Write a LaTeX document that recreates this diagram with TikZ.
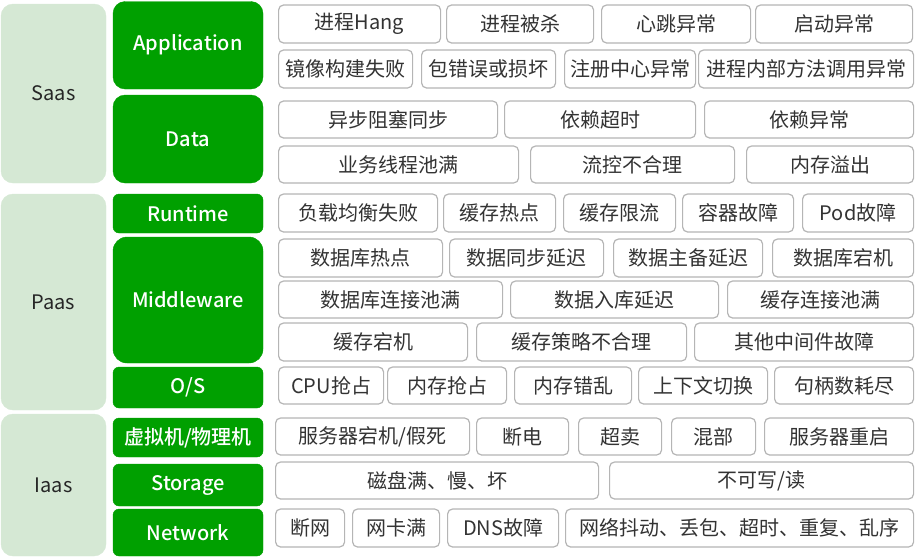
\documentclass[tikz,border=0pt]{standalone}
\usepackage{fontspec}
\setmainfont{Noto Sans CJK SC}
\newfontfamily\catfont{Noto Sans CJK SC}[UprightFont=* Medium]
\definecolor{laygreen}{HTML}{D5E8D4}
\definecolor{catgreen}{HTML}{00A000}
\definecolor{itmgray}{HTML}{B5B5B5}

\begin{document}
\begin{tikzpicture}[x=1pt,y=-1pt,
  lay/.style={fill=laygreen,draw=laygreen,rounded corners=12pt,minimum width=105pt,
    text=black!85,font=\fontsize{20}{24}\selectfont},
  cat/.style={fill=catgreen,draw=catgreen,rounded corners=6pt,minimum width=150pt,
    text=white,font=\fontsize{20}{24}\catfont},
  itm/.style={draw=itmgray,line width=1.2pt,fill=white,rounded corners=5pt,anchor=west,
    inner sep=0pt,text=black!80,font=\fontsize{20}{24}\selectfont}]
\useasboundingbox (0,0) rectangle (915,557);

% layers
\node[lay,minimum height=179pt] (saas) at (53.5,93.5) {Saas};
\node[lay,minimum height=216pt] (paas) at (53.5,302) {Paas};
\node[lay,minimum height=142pt] (iaas) at (53.5,485) {Iaas};

% categories
\node[cat,rounded corners=12pt,minimum height=87.5pt] (app) at (188,45.25) {Application};
\node[cat,rounded corners=12pt,minimum height=88pt] (data) at (188,139) {Data};
\node[cat,minimum height=39pt] (rt) at (188,213.5) {Runtime};
\node[cat,rounded corners=14pt,minimum height=126pt] (mw) at (188,300) {Middleware};
\node[cat,minimum height=41pt] (os) at (188,387.5) {O/S};
\node[cat,minimum height=39pt] (vm) at (188,437.5) {虚拟机/物理机};
\node[cat,minimum height=42pt] (st) at (188,485) {Storage};
\node[cat,minimum height=47pt] (net) at (188,532.5) {Network};

% items, one row per loop: left/right/text
\foreach \a/\b/\t [count=\i] in {278/440/进程Hang,446/593/进程被杀,601/750/心跳异常,755/912/启动异常}
  \node[itm,minimum width=\b-\a,minimum height=38pt] (app1-\i) at (\a,24) {\t};
\foreach \a/\b/\t [count=\i] in {278/412/镜像构建失败,421/555/包错误或损坏,564/695/注册中心异常,698/913/进程内部方法调用异常}
  \node[itm,minimum width=\b-\a,minimum height=38pt] (app2-\i) at (\a,69) {\t};
\foreach \a/\b/\t [count=\i] in {278/497/异步阻塞同步,504/695/依赖超时,704/913/依赖异常}
  \node[itm,minimum width=\b-\a,minimum height=37pt] (data1-\i) at (\a,119.5) {\t};
\foreach \a/\b/\t [count=\i] in {278/518/业务线程池满,530/734/流控不合理,746/913/内存溢出}
  \node[itm,minimum width=\b-\a,minimum height=37pt] (data2-\i) at (\a,164.5) {\t};
\foreach \a/\b/\t [count=\i] in {278/437/负载均衡失败,443/555/缓存热点,563/675/缓存限流,682/793/容器故障,802/913/Pod故障}
  \node[itm,minimum width=\b-\a,minimum height=38pt] (rt-\i) at (\a,213) {\t};
\foreach \a/\b/\t [count=\i] in {278/442/数据库热点,449/603/数据同步延迟,613/762/数据主备延迟,772/913/数据库宕机}
  \node[itm,minimum width=\b-\a,minimum height=38pt] (mw1-\i) at (\a,258) {\t};
\foreach \a/\b/\t [count=\i] in {278/502/数据库连接池满,510/718/数据入库延迟,727/913/缓存连接池满}
  \node[itm,minimum width=\b-\a,minimum height=37pt] (mw2-\i) at (\a,299.5) {\t};
\foreach \a/\b/\t [count=\i] in {278/467/缓存宕机,476/686/缓存策略不合理,694/913/其他中间件故障}
  \node[itm,minimum width=\b-\a,minimum height=38pt] (mw3-\i) at (\a,342) {\t};
\foreach \a/\b/\t [count=\i] in {278/383/CPU抢占,387/506/内存抢占,514/631/内存错乱,638/767/上下文切换,774/913/句柄数耗尽}
  \node[itm,minimum width=\b-\a,minimum height=37pt] (os-\i) at (\a,385.5) {\t};
\foreach \a/\b/\t [count=\i] in {275/469/{服务器宕机/假死},476/568/断电,578/661/超卖,671/755/混部,764/913/服务器重启}
  \node[itm,minimum width=\b-\a,minimum height=37pt] (vm-\i) at (\a,436.5) {\t};
\foreach \a/\b/\t [count=\i] in {275/598/磁盘满、慢、坏,609/913/{不可写/读}}
  \node[itm,minimum width=\b-\a,minimum height=37pt] (st-\i) at (\a,480.5) {\t};
\foreach \a/\b/\t [count=\i] in {275/344/断网,352/439/网卡满,447/558/DNS故障,565/913/网络抖动、丢包、超时、重复、乱序}
  \node[itm,minimum width=\b-\a,minimum height=38pt] (net-\i) at (\a,528) {\t};
\end{tikzpicture}
\end{document}
